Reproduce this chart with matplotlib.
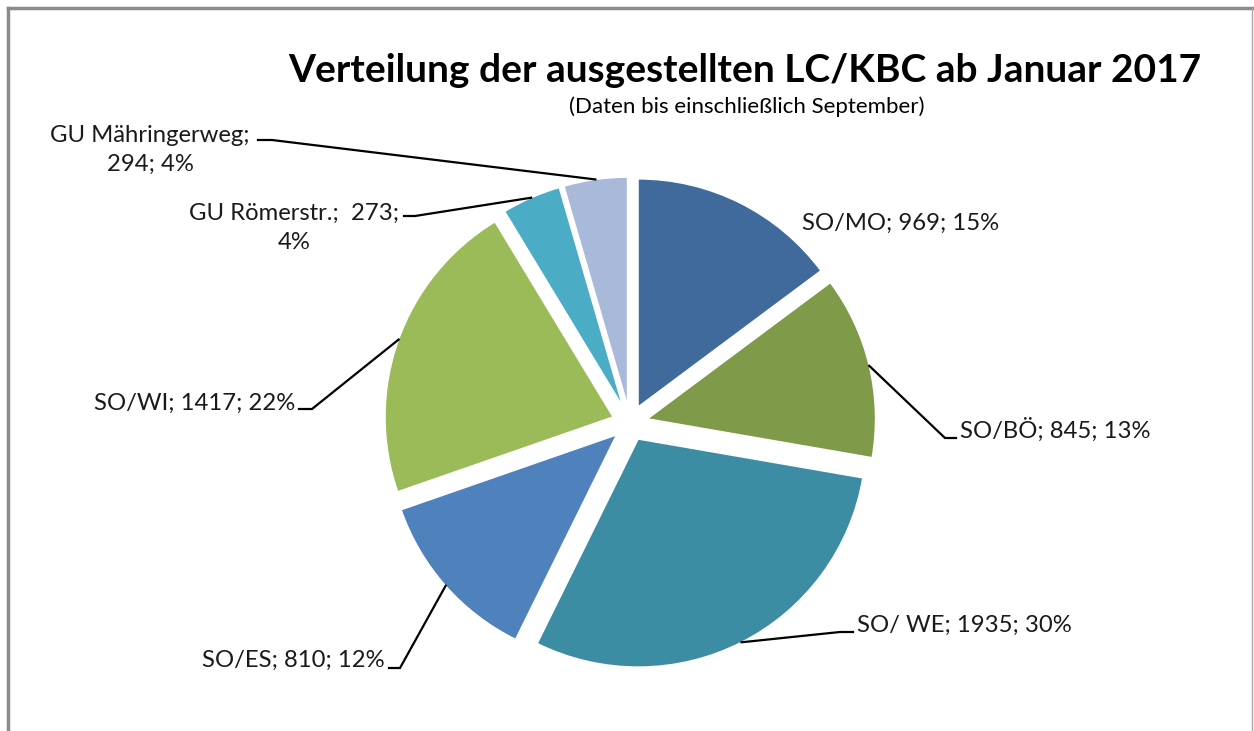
import numpy as np
import matplotlib
matplotlib.use('Agg')
import matplotlib.pyplot as plt

W, H = 1254, 731

# data
categories = ['SO/MO', 'SO/BÖ', 'SO/ WE', 'SO/ES', 'SO/WI', 'GU Römerstr.', 'GU Mähringerweg']
values = [969, 845, 1935, 810, 1417, 273, 294]
colors = ['#40699C', '#7F9A48', '#3C8DA3', '#4F81BD', '#9BBB59', '#4BACC6', '#A9B9D9']

title = 'Verteilung der ausgestellten LC/KBC ab Januar 2017'
subtitle = '(Daten bis einschließlich September)'

# label layout in pixels: (x, y, ha, separators, leader line y, elbow x, end x)
label_layout = [
    (802, 223, 'left', ('; ', '; '), None, None, None),
    (960, 430, 'left', ('; ', '; '), 438, 945, 956),
    (857, 625, 'left', ('; ', '; '), 632, 840, 853),
    (385, 660, 'right', ('; ', '; '), 668, 400, 389),
    (295, 403, 'right', ('; ', '; '), 409, 312, 299),
    (294, 228, 'center', (';  ', ';\n'), 216, 415, 404),
    (150, 150, 'center', (';\n', '; '), 140, 272, 258),
]

plt.rcParams['font.family'] = ['Lato', 'DejaVu Sans']

fig = plt.figure(figsize=(W / 100, H / 100), dpi=100)
ax = fig.add_axes([0, 0, 1, 1])

radius = 228
center = (630, 423)
total = sum(values)
wedges, _ = ax.pie(values, colors=colors, startangle=-90, counterclock=True,
                   radius=radius, center=center, explode=[18] * len(values),
                   wedgeprops=dict(edgecolor='white', linewidth=1))
ax.set_xlim(0, W)
ax.set_ylim(H, 0)
ax.set_aspect('equal')
ax.axis('off')

for w, cat, val, lay in zip(wedges, categories, values, label_layout):
    x, y, ha, seps, ly, ex, endx = lay
    pct = int(round(val / total * 100))
    txt = f'{cat}{seps[0]}{val}{seps[1]}{pct}%'
    ax.text(x, y, txt, ha=ha, va='center', fontsize=17.2, color='#1a1a1a',
            multialignment='center', linespacing=1.45)
    if ly is not None:
        ang = np.deg2rad((w.theta1 + w.theta2) / 2)
        cx, cy = w.center
        px = cx + w.r * np.cos(ang)
        py = cy + w.r * np.sin(ang)
        ax.plot([px, ex, endx], [py, ly, ly], color='black', lw=1.6,
                solid_joinstyle='miter')

ax.text(745, 82, title, ha='center', va='baseline', fontsize=28,
        fontweight='bold', color='black')
ax.text(747, 113, subtitle, ha='center', va='baseline', fontsize=16,
        color='black')

# chart frame
ax.plot([7.5, 7.5], [H, 7.5], color='#8c8c8c', lw=2.5, clip_on=False)
ax.plot([7.5, 1252], [7.5, 7.5], color='#8c8c8c', lw=2.5, clip_on=False)
ax.plot([1252, 1252], [7.5, H], color='#a8a8a8', lw=1, clip_on=False)

fig.savefig('out.png', dpi=100)
plt.close(fig)
